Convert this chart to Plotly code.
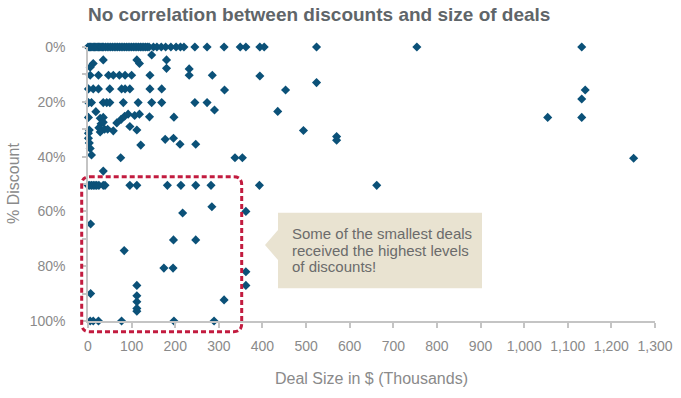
import plotly.graph_objects as go

# ---- data (deal size in $K, discount in %) ----
deal_size = [
    # 0% row
    0, 3, 6, 9, 12, 15, 18, 21, 24, 27, 30, 33, 36, 40, 44, 48, 52, 56, 60, 64, 68, 72, 76, 80, 84,
    88, 92, 96, 100, 104, 108, 112, 116, 120, 124, 128, 132, 136, 140, 150, 158, 168, 178, 190, 202,
    212, 220, 245, 273, 312, 349, 362, 394, 404, 524, 754, 1132,
    # 2-8%
    146, 35, 12, 5, 112, 118, 180, 180,
    # ~10%
    5, 24, 47, 58, 72, 85, 100, 142, 232, 232, 285, 394, 524,
    # ~15%
    1, 12, 24, 50, 77, 85, 96, 142, 169, 313, 453, 1140,
    # ~20%
    1, 8, 35, 43, 50, 81, 115, 146, 169, 245, 273, 290, 435, 18, 1132,
    # ~25%
    1, 28, 35, 66, 76, 84, 92, 107, 118, 141, 197, 1054, 1132,
    # 27-31%
    30, 25, 35, 38, 28, 96, 112, 58, 3, 45, 494,
    # 31-37%
    1, 1, 3, 5, 121, 177, 196, 211, 247, 570, 570,
    # ~40%
    8, 75, 337, 354, 1251, 35,
    # 50% row
    0, 4, 8, 12, 16, 20, 25, 35, 39, 96, 112, 182, 213, 247, 282, 393, 662,
    # 55-97%
    217, 284, 362, 6, 83, 196, 247, 174, 195, 362, 362, 6, 112, 112, 112, 112, 112, 312,
    # 100% row
    5, 12, 24, 77, 197, 289,
]
discount = [
    # 0% row
    0, 0, 0, 0, 0, 0, 0, 0, 0, 0, 0, 0, 0, 0, 0, 0, 0, 0, 0, 0, 0, 0, 0, 0, 0,
    0, 0, 0, 0, 0, 0, 0, 0, 0, 0, 0, 0, 0, 0, 0, 0, 0, 0, 0, 0,
    0, 0, 0, 0, 0, 0, 0, 0, 0, 0, 0, 0,
    # 2-8%
    2.9, 4.7, 6, 7.4, 4.7, 6, 4.7, 7.8,
    # ~10%
    10.3, 10.3, 10.3, 10.3, 10.3, 10.3, 10.3, 10.3, 8, 10.3, 10.3, 10.6, 13,
    # ~15%
    15.3, 15.3, 15.3, 15.3, 15.3, 15.3, 15.3, 15.3, 15.3, 15.7, 15.7, 15.7,
    # ~20%
    20.3, 20.3, 20.3, 20.3, 20.3, 20.3, 20.3, 20.3, 20.3, 20.3, 20.3, 23, 23.5, 23.6, 19,
    # ~25%
    25.7, 26, 25.7, 27.7, 26.4, 25.3, 24.5, 25, 24.5, 25.5, 25.6, 25.7, 25.7,
    # 27-31%
    28, 29.5, 27.5, 30, 31, 29, 30.3, 30.6, 30.3, 30, 30.5,
    # 31-37%
    31.5, 33.3, 35, 37, 35.8, 33.7, 33.3, 35.5, 35.5, 32.7, 34,
    # ~40%
    39.4, 40.4, 40.4, 40.4, 40.6, 45.3,
    # 50% row
    50.5, 50.5, 50.5, 50.5, 50.5, 50.5, 50.5, 50.5, 50.5, 50.5, 50.5, 50.5, 50.5, 50.5, 50.5, 50.5, 50.5,
    # 55-97%
    60.6, 58.3, 60, 64.6, 74.3, 70.4, 70.4, 80.7, 80.7, 82, 87, 90, 87, 90.8, 93, 95.4, 96.4, 92.3,
    # 100% row
    100, 100, 100, 100, 100, 100,
]

x_ticks = list(range(0, 1301, 100))
y_ticks = [0, 20, 40, 60, 80, 100]
y_ticktext = [f"{v}%" for v in y_ticks]

title_text = "No correlation between discounts and size of deals"
x_title = "Deal Size in $ (Thousands)"
y_title = "% Discount"
callout_lines = ["Some of the smallest deals", "received the highest levels", "of discounts!"]

# ---- layout geometry (window pixels; body margin removed below) ----
W, H = 681, 398
PL, PR, PT, PB = 88, 655, 47, 321          # plot area edges
ML, MR, MT, MB = PL, W - PR, PT, H - PB
PW, PH = PR - PL, PB - PT


def px(xp):
    return (xp - PL) / PW


def py(yp):
    return 1 - (yp - PT) / PH


FONT = "Liberation Sans, Arial, sans-serif"
GRAY = "#8a8a8a"
MARK = "#0B5178"

fig = go.Figure()
fig.add_trace(go.Scatter(
    x=deal_size, y=discount, mode="markers",
    marker=dict(symbol="diamond", size=7, color=MARK, line=dict(width=0)),
    cliponaxis=False, hoverinfo="x+y", showlegend=False,
))

# rounded dashed rectangle
x0, x1, y0, y1, r = 81.7, 241.7, 176.7, 331.7, 8
path = (
    f"M{px(x0 + r)},{py(y0)} L{px(x1 - r)},{py(y0)} Q{px(x1)},{py(y0)} {px(x1)},{py(y0 + r)} "
    f"L{px(x1)},{py(y1 - r)} Q{px(x1)},{py(y1)} {px(x1 - r)},{py(y1)} "
    f"L{px(x0 + r)},{py(y1)} Q{px(x0)},{py(y1)} {px(x0)},{py(y1 - r)} "
    f"L{px(x0)},{py(y0 + r)} Q{px(x0)},{py(y0)} {px(x0 + r)},{py(y0)} Z"
)
shapes = [dict(type="path", xref="paper", yref="paper", path=path,
               line=dict(color="#C21B3F", width=3, dash="5px,3px"), fillcolor="rgba(0,0,0,0)")]

# callout box with pointer
bx0, bx1, by0, by1 = 278, 482, 212.7, 288.3
tipx, tipy, b0, b1 = 265, 245, 230, 260
cpath = (
    f"M{px(bx0)},{py(by0)} L{px(bx1)},{py(by0)} L{px(bx1)},{py(by1)} L{px(bx0)},{py(by1)} "
    f"L{px(bx0)},{py(b1)} L{px(tipx)},{py(tipy)} L{px(bx0)},{py(b0)} Z"
)
shapes.append(dict(type="path", xref="paper", yref="paper", path=cpath,
                   line=dict(width=0), fillcolor="#E9E3D1", layer="below"))

annotations = []
for i, t in enumerate(callout_lines):
    annotations.append(dict(
        text=t, xref="paper", yref="paper", x=px(290), y=py(233.3 + 16.7 * i),
        xanchor="left", yanchor="middle", showarrow=False,
        font=dict(family=FONT, size=15, color="#6b6b6b")))

annotations.append(dict(text=x_title, xref="paper", yref="paper", x=0.5, y=py(378),
                        xanchor="center", yanchor="middle", showarrow=False,
                        font=dict(family=FONT, size=16, color=GRAY)))
annotations.append(dict(text=y_title, xref="paper", yref="paper", x=px(13), y=py(184),
                        xanchor="center", yanchor="middle", showarrow=False, textangle=-90,
                        font=dict(family=FONT, size=16, color=GRAY)))

fig.update_layout(
    width=W, height=H,
    margin=dict(l=ML, r=MR, t=MT, b=MB, pad=0, autoexpand=False),
    paper_bgcolor="white", plot_bgcolor="white",
    title=dict(text=f"<b>{title_text}</b>", x=88 / W, xref="container",
               xanchor="left", y=1 - 14 / H, yanchor="middle", yref="container",
               font=dict(family=FONT, size=19, color="#5f6569")),
    shapes=shapes, annotations=annotations,
    xaxis=dict(range=[0, 1300], tickvals=x_ticks, tickformat=",", ticks="outside", ticklen=5,
               tickcolor="#c4c4c4", tickwidth=1.5, showline=True, linecolor="#c4c4c4", linewidth=1.5,
               showgrid=False, zeroline=False, ticklabelstandoff=6, automargin=False,
               tickfont=dict(family=FONT, size=14, color=GRAY)),
    yaxis=dict(range=[100, 0], tickvals=y_ticks, ticktext=y_ticktext, ticks="outside", ticklen=4,
               tickcolor="#c4c4c4", tickwidth=1.5, showline=True, linecolor="#c4c4c4", linewidth=1.5,
               showgrid=False, zeroline=False, ticklabelstandoff=14, automargin=False,
               minor=dict(tickvals=[10, 30, 50, 70, 90], ticks="outside", ticklen=4,
                          tickcolor="#c4c4c4", tickwidth=1.5),
               tickfont=dict(family=FONT, size=14, color=GRAY)),
)

fig.write_html("out.html", config={"displayModeBar": False},
               post_script="document.body.style.margin='0px';")
